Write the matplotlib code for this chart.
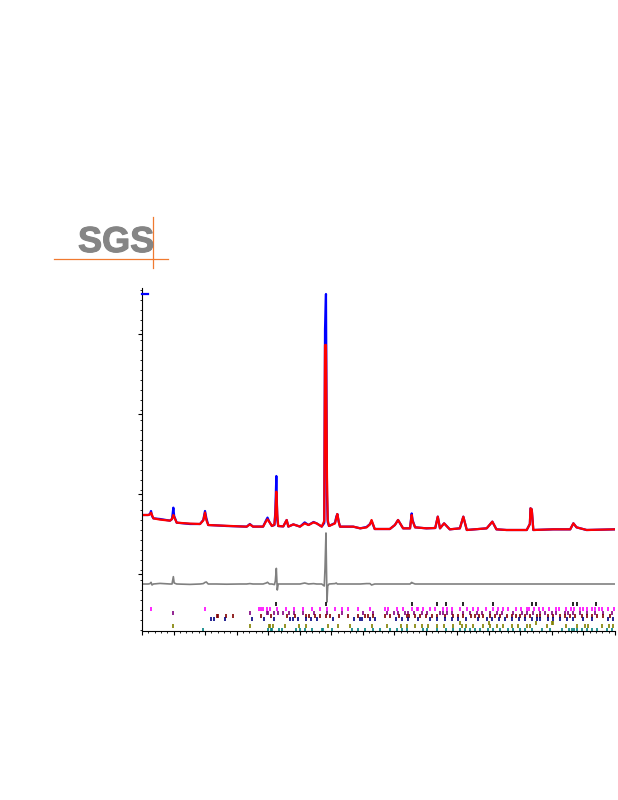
import numpy as np
import matplotlib
matplotlib.use("Agg")
import matplotlib.pyplot as plt
import matplotlib.patheffects as pe
from matplotlib.lines import Line2D

two_theta = [5.0, 6.0, 6.27, 6.43, 6.59, 6.8, 7.85, 9.44, 9.76, 9.97, 10.1, 10.5,
             12.6, 14.2, 14.72, 14.99, 15.2, 15.5, 16.8, 18.4, 20.5, 21.6, 22.1,
             22.6, 24.2, 24.7, 24.9, 25.2, 25.6, 26.0, 26.14, 26.3, 26.45, 26.6,
             27.4, 27.94, 28.2, 29.0, 30.05, 30.8, 31.4, 32.2, 32.7, 33.5, 33.9,
             34.02, 34.17, 34.33, 34.45, 34.65, 35.6, 35.8, 35.97, 36.2, 36.4,
             38.5, 39.6, 40.6, 41.15, 41.4, 41.9, 44.3, 45.1, 45.6, 46.4, 47.5,
             47.76, 47.9, 48.3, 50.1, 51.5, 51.9, 52.25, 52.9, 53.8, 55.4, 55.95,
             56.5, 59.65, 60.55, 61.2, 62.8, 66.0, 66.5, 66.6, 66.8, 67.05, 70.2,
             72.9, 73.4, 73.9, 75.5, 80.0]
y_obs = [1750, 1750, 1800, 1950, 1700, 1583, 1550, 1467, 1550, 2117, 1700, 1367,
         1300, 1300, 1500, 1950, 1600, 1250, 1230, 1200, 1180, 1167, 1300,
         1170, 1170, 1500, 1620, 1400, 1200, 1250, 1900, 3700, 1500, 1200,
         1180, 1500, 1170, 1280, 1170, 1380, 1250, 1400, 1330, 1170, 1350,
         11050, 12800, 2750, 1400, 1200, 1350, 1650, 1800, 1400, 1167,
         1167, 1083, 1150, 1300, 1450, 1050, 1050, 1250, 1500, 1083, 1083,
         1830, 1500, 1133, 1083, 1100, 1667, 1083, 1333, 1033, 1083, 1667,
         1000, 1083, 1417, 1033, 1000, 1000, 1300, 2083, 2033, 1000, 1033,
         1033, 1333, 1133, 1000, 1033]
y_calc = [1750, 1750, 1780, 1867, 1750, 1583, 1520, 1467, 1550, 1750, 1650, 1367,
          1320, 1300, 1480, 1870, 1500, 1250, 1230, 1210, 1180, 1167, 1280,
          1170, 1170, 1450, 1533, 1400, 1200, 1280, 1750, 2917, 1800, 1200,
          1180, 1500, 1170, 1280, 1170, 1330, 1250, 1380, 1330, 1170, 1450,
          10250, 10250, 3650, 1500, 1200, 1330, 1600, 1800, 1400, 1167,
          1167, 1083, 1130, 1280, 1500, 1050, 1050, 1250, 1500, 1083, 1083,
          1750, 1450, 1133, 1083, 1100, 1667, 1083, 1333, 1033, 1083, 1667,
          1000, 1083, 1417, 1033, 1000, 1000, 1300, 2083, 2033, 1000, 1033,
          1033, 1333, 1133, 1000, 1033]
diff_offset = -1700

# reflection positions per phase (2theta)
refl_black = [26.3, 34.17, 47.76, 51.72, 53.2, 55.95, 60.71, 66.78, 67.47,
              73.39, 74.03, 76.93]
refl_magenta = [6.43, 14.99, 23.6, 23.87, 24.24, 24.77, 25.3, 26.35, 27.78,
                29.1, 30.58, 31.9, 33.22, 34.28, 35.6, 36.66, 37.71, 39.3, 41.15,
                43.53, 44.06, 45.38, 46.44, 47.76, 48.55, 48.81, 49.61, 50.66,
                51.46, 52.78, 53.31, 54.1, 55.42, 56.48, 57.43, 58.33, 59.49,
                60.71, 61.5, 62.29, 63.08, 64.3, 65.04, 66.1, 66.41, 67.15, 68.0,
                68.53, 69.48, 70.64, 71.17, 72.17, 72.97, 73.5, 74.45, 74.87,
                75.5, 76.3, 76.83, 77.51, 77.88, 78.94, 79.89]
refl_purple = [9.97, 22.12, 24.87, 25.03, 25.98, 26.51, 27.41, 28.31, 29.15,
               30.47, 32.27, 34.28, 36.66, 39.99, 41.68, 43.79, 44.96, 45.64,
               46.7, 47.23, 48.13, 49.34, 50.13, 52.25, 52.78, 53.31, 54.1,
               55.95, 57.01, 58.06, 58.96, 60.18, 61.24, 62.03, 63.88, 65.2,
               65.99, 67.05, 68.11, 68.9, 69.95, 70.64, 72.07, 72.6, 73.39,
               74.45, 75.5, 76.83, 78.15, 79.47]
refl_maroon = [16.84, 17.1, 18.32, 19.48, 23.82, 25.45, 28.04, 29.26, 30.95,
               31.53, 32.43, 33.22, 34.17, 34.81, 36.24, 37.71, 39.3, 40.36,
               40.89, 41.57, 43.53, 44.32, 45.75, 46.96, 47.39, 48.29, 49.08,
               50.03, 50.93, 51.72, 53.04, 54.26, 55.16, 55.95, 57.11, 57.8,
               58.49, 59.12, 60.18, 60.97, 61.76, 62.82, 63.61, 64.3, 64.93,
               65.73, 66.52, 67.58, 68.11, 69.43, 70.22, 71.28, 72.07, 72.86,
               73.66, 74.71, 75.5, 76.3, 77.09, 78.15, 79.2]
refl_navy = [15.94, 16.47, 18.16, 22.49, 24.34, 25.98, 28.47, 29.0, 29.79, 31.0,
             31.74, 32.69, 35.34, 38.61, 39.56, 39.83, 41.15, 41.94, 45.27,
             46.17, 47.23, 48.81, 50.66, 51.72, 52.99, 54.1, 55.16, 56.37,
             58.33, 59.65, 60.44, 61.66, 62.56, 63.61, 64.72, 65.73, 66.78,
             67.58, 68.11, 69.43, 70.22, 71.28, 72.33, 73.39, 74.98, 76.3,
             78.94, 79.63]
refl_olive_a = [55.42, 60.07, 67.47, 69.95, 70.22]
refl_olive_b = [9.97, 22.12, 25.19, 25.3, 25.82, 27.73, 29.95, 31.0, 34.44,
                36.13, 37.98, 41.52, 43.79, 46.01, 46.96, 48.29, 49.34, 50.4,
                51.72, 52.88, 54.36, 55.69, 56.37, 57.54, 59.12, 60.18, 61.24,
                62.29, 63.61, 64.67, 65.99, 66.52, 69.16, 72.23, 74.03, 75.24,
                75.77, 77.88, 79.1, 79.73]
refl_teal = [14.72, 25.03, 25.45, 25.56, 26.77, 27.25, 29.42, 30.05, 30.84,
             31.9, 33.49, 33.75, 35.07, 38.24, 39.3, 40.36, 41.68, 42.74, 44.32,
             45.38, 46.22, 47.07, 49.5, 50.24, 51.72, 53.15, 54.26, 55.42,
             56.21, 57.01, 57.8, 58.59, 59.91, 60.71, 61.76, 63.08, 63.88,
             64.93, 65.73, 66.78, 68.37, 69.69, 71.54, 72.76, 73.13, 73.5,
             73.92, 74.71, 75.5, 76.3, 77.09, 78.68, 79.47]

fig = plt.figure(figsize=(6.18, 8), dpi=100)
W, H = 618, 800

# SGS logo
fig.text(78 / W, 1 - 252 / H, 'SGS', ha='left', va='baseline',
         fontsize=26, fontweight='bold', color='#858585',
         family=['Liberation Sans', 'DejaVu Sans'],
         path_effects=[pe.withStroke(linewidth=0.8, foreground='#858585')])
fig.add_artist(Line2D([54 / W, 168 / W], [1 - 259 / H, 1 - 259 / H],
                      color='#f07a30', lw=0.9))
fig.add_artist(Line2D([153 / W, 153 / W], [1 - 217 / H, 1 - 268 / H],
                      color='#f07a30', lw=0.9))

ax = fig.add_axes([142 / W, 1 - 631 / H, 473 / W, 343 / H])

x = np.array(two_theta)
obs = np.array(y_obs)
calc = np.array(y_calc)

line_obs, = ax.plot(x, obs, color='#0000ff', lw=1.6)
ax.plot(x, calc, color='#ff0000', lw=1.6)
ax.plot(x, obs - calc + diff_offset, color='#808080', lw=1.2)

rows = [
    (refl_black, '#000000', -2600, -2800),
    (refl_magenta, '#ff00ff', -2830, -3030),
    (refl_purple, '#800080', -3030, -3230),
    (refl_maroon, '#800000', -3200, -3380),
    (refl_navy, '#000080', -3370, -3570),
    (refl_olive_a, '#808000', -3550, -3750),
    (refl_olive_b, '#808000', -3720, -3890),
    (refl_teal, '#008080', -3890, -4050),
]
for pos, col, y0, y1 in rows:
    ax.vlines(pos, y1, y0, colors=col, lw=1.2)

ax.set_xlim(5, 80)
ax.set_ylim(-4050, 13100)
ax.spines['top'].set_visible(False)
ax.spines['right'].set_visible(False)
ax.set_xticks(np.arange(5, 81, 5))
ax.set_xticks(np.arange(5, 80.5, 1), minor=True)
ax.set_yticks(np.arange(-1200, 13100, 4000))
ax.set_yticks(np.arange(-4000, 13001, 500), minor=True)
ax.tick_params(labelbottom=False, labelleft=False, length=3, width=0.8)
ax.tick_params(which='minor', length=1.5, width=0.6)

ax.legend([line_obs], [''], loc='upper left', frameon=False,
          handlelength=0.45, borderaxespad=0.0, borderpad=0.0, handletextpad=0)

fig.savefig('out.png', dpi=100)
